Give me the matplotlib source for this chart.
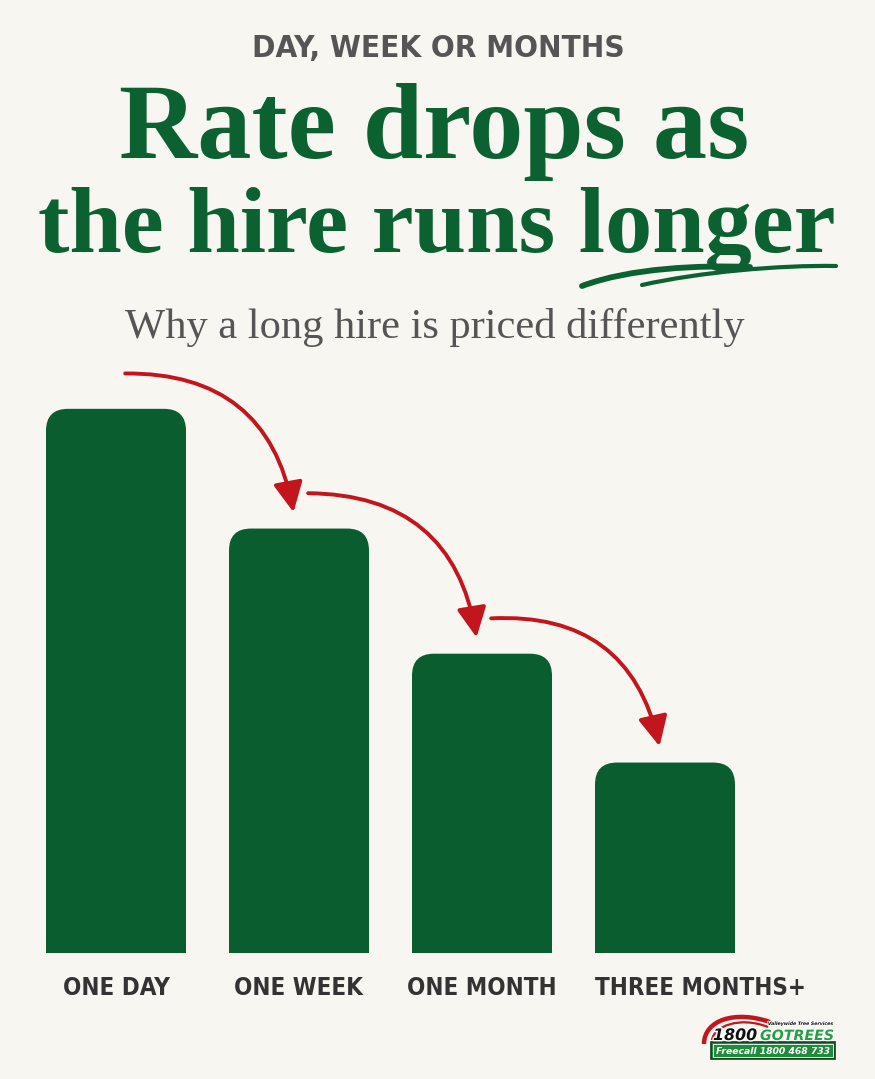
import os
import numpy as np
import matplotlib
matplotlib.use("Agg")
import matplotlib.pyplot as plt
from matplotlib import font_manager as fm
from matplotlib.patches import FancyBboxPatch, Rectangle, FancyArrowPatch, PathPatch
from matplotlib.path import Path
from matplotlib.transforms import blended_transform_factory
import matplotlib.patheffects as pe

# ---------------- data ----------------
categories = ["ONE DAY", "ONE WEEK", "ONE MONTH", "THREE MONTHS+"]
rate_index = [100, 78, 55, 35]          # relative daily rate (bar heights)
header = "DAY, WEEK OR MONTHS"
title_lines = ["Rate drops as", "the hire runs longer"]
subtitle = "Why a long hire is priced differently"
logo_top = "Valleywide Tree Services"
logo_num = "1800"
logo_word = "GOTREES"
logo_phone = "Freecall 1800 468 733"

# ---------------- style ----------------
W, H = 875, 1079
BG = "#f7f6f1"
GREEN = "#095d2e"
TITLE_GREEN = "#0c6131"
RED = "#c3161c"
GRAY = "#555555"
LABEL = "#333333"

SERIF_B = fm.FontProperties(family="Liberation Serif", weight="bold")
SERIF = fm.FontProperties(family="Liberation Serif", weight="normal")


def font_file(parts):
    for f in fm.fontManager.ttflist:
        fn = os.path.basename(f.fname)
        if all(p in fn for p in parts):
            return f.fname
    return None


cond = font_file(["DejaVuSansCondensed-Bold"])
SANS_B = fm.FontProperties(fname=cond) if cond else fm.FontProperties(family="DejaVu Sans", weight="bold")
LOGO_F = fm.FontProperties(family="DejaVu Sans", weight="bold", style="italic")

fig = plt.figure(figsize=(W / 100, H / 100), dpi=100, facecolor=BG)
ov = fig.add_axes([0, 0, 1, 1], zorder=0)
ov.set_xlim(0, W)
ov.set_ylim(H, 0)
ov.axis("off")

renderer = fig.canvas.get_renderer()


def fit(t, target_w):
    bb = t.get_window_extent(renderer)
    t.set_fontsize(t.get_fontsize() * target_w / bb.width)
    return t

# ---------------- texts ----------------
t = ov.text(438, 57, header, ha="center", va="baseline", color=GRAY,
            fontproperties=SANS_B, fontsize=20)
fit(t, 372)

t1 = ov.text(434, 158, title_lines[0], ha="center", va="baseline",
             color=TITLE_GREEN, fontproperties=SERIF_B, fontsize=60)
fit(t1, 630)
t2 = ov.text(437, 252, title_lines[1], ha="center", va="baseline",
             color=TITLE_GREEN, fontproperties=SERIF_B, fontsize=60)
fit(t2, 798)

ts = ov.text(435, 338, subtitle, ha="center", va="baseline", color=GRAY,
             fontproperties=SERIF, fontsize=27)
fit(ts, 620)

# brush underline below "longer"
for verts, lw in [
    ([(582, 286), (630, 268), (700, 265), (750, 267)], 4.2),
    ([(642, 285), (700, 272), (780, 265), (836, 266)], 3.0),
]:
    p = Path(verts, [Path.MOVETO, Path.CURVE4, Path.CURVE4, Path.CURVE4])
    ov.add_patch(PathPatch(p, fc="none", ec=TITLE_GREEN, lw=lw, capstyle="round"))

# ---------------- bars ----------------
ax = fig.add_axes([0, (H - 953) / H, 1, (953 - 300) / H], zorder=1)
ax.set_facecolor("none")
ax.set_xlim(-116 / 183, (W - 116) / 183)
ax.set_ylim(0, 120)
ax.axis("off")

x = np.arange(len(categories))
bw = 140 / 183
bars = ax.bar(x, rate_index, width=bw, color=GREEN)

# convert rounding radius to data units
px_per_x = ax.transData.transform((1, 0))[0] - ax.transData.transform((0, 0))[0]
px_per_y = ax.transData.transform((0, 1))[1] - ax.transData.transform((0, 0))[1]
aspect = px_per_x / px_per_y
r = 22 / px_per_x
for b in bars:
    b.set_visible(False)
    bx, by, w, h = b.get_x(), b.get_y(), b.get_width(), b.get_height()
    ax.add_patch(FancyBboxPatch((bx, by), w, h,
                                boxstyle=f"round,pad=0,rounding_size={r}",
                                mutation_aspect=aspect, fc=GREEN, ec="none"))
    ax.add_patch(Rectangle((bx, by), w, h / 2, fc=GREEN, ec="none"))

# curved arrows between bars
for i in range(len(rate_index) - 1):
    a = FancyArrowPatch((x[i] + 0.05, rate_index[i] + 6.5),
                        (x[i + 1] - 0.03, rate_index[i + 1] + 3),
                        connectionstyle="arc3,rad=-0.42",
                        arrowstyle="-|>,head_length=0.65,head_width=0.32",
                        mutation_scale=28, lw=2.8, color=RED,
                        shrinkA=0, shrinkB=0, zorder=3)
    ax.add_patch(a)

# category labels
tr = blended_transform_factory(ax.transData, ov.transData)
lab = []
for i, c in enumerate(categories):
    if i == len(categories) - 1:
        tt = ov.text(x[i] - bw / 2, 995, c, transform=tr, ha="left",
                     va="baseline", color=LABEL, fontproperties=SANS_B, fontsize=16)
    else:
        tt = ov.text(x[i], 995, c, transform=tr, ha="center", va="baseline",
                     color=LABEL, fontproperties=SANS_B, fontsize=16)
    lab.append(tt)
bb = lab[-1].get_window_extent(renderer)
scale = 212 / bb.width
for tt in lab:
    tt.set_fontsize(tt.get_fontsize() * scale)

# ---------------- logo ----------------
sw = Path([(704, 1044), (704, 1020), (735, 1010), (770, 1022)],
          [Path.MOVETO, Path.CURVE4, Path.CURVE4, Path.CURVE4])
ov.add_patch(PathPatch(sw, fc="none", ec=RED, lw=3.2))
sw2 = Path([(712, 1040), (714, 1026), (740, 1016), (768, 1027)],
           [Path.MOVETO, Path.CURVE4, Path.CURVE4, Path.CURVE4])
ov.add_patch(PathPatch(sw2, fc="none", ec=RED, lw=1.6))
ov.add_patch(Rectangle((711, 1042), 124, 17, fc="#1e8c3c", ec="#123b1e", lw=1.2))
ov.add_patch(Rectangle((713, 1044), 120, 13, fc="none", ec="white", lw=0.6))
tp = ov.text(773, 1051.5, logo_phone, ha="center", va="center", color="white",
             fontproperties=LOGO_F, fontsize=7)
fit(tp, 114)
tn = ov.text(757, 1040, logo_num, ha="right", va="baseline", color="#111111",
             fontproperties=LOGO_F, fontsize=10,
             path_effects=[pe.withStroke(linewidth=2, foreground="white")])
fit(tn, 44)
tw = ov.text(760, 1040, logo_word, ha="left", va="baseline", color="#22a046",
             fontproperties=LOGO_F, fontsize=10,
             path_effects=[pe.withStroke(linewidth=1.6, foreground="white")])
fit(tw, 74)
tt = ov.text(801, 1025, logo_top, ha="center", va="baseline", color="#111111",
             fontproperties=LOGO_F, fontsize=5,
             path_effects=[pe.withStroke(linewidth=1.2, foreground="white")])
fit(tt, 66)

fig.savefig("out.png", dpi=100, facecolor=BG)
